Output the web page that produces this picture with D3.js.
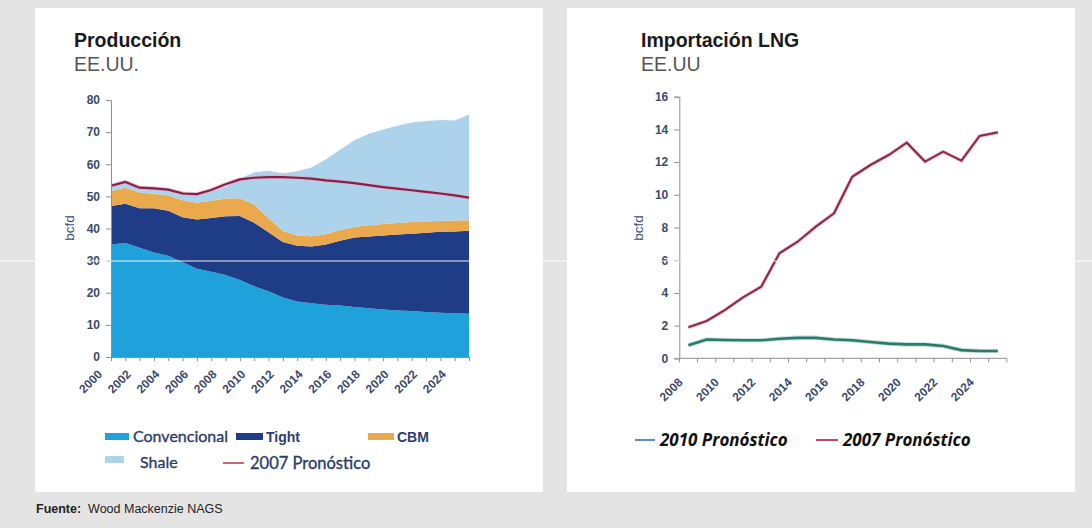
<!DOCTYPE html>
<html><head><meta charset="utf-8">
<script src="https://cdn.jsdelivr.net/npm/d3@7"></script>
<style>body{margin:0;background:#e4e4e4;} svg{display:block}</style>
</head><body><svg id="c" width="1092" height="528"></svg>
<script>
// ---------- DATA ----------
const prodYears = d3.range(2000, 2026);
const convencional = [35,35.5,34,32.5,31.5,29.5,27.5,26.5,25.5,24,22,20.5,18.5,17.3,16.7,16.3,16,15.6,15.2,14.8,14.5,14.3,14,13.8,13.6,13.5];
const tight = [12,12.2,12.3,13.8,14,14,15.3,16.8,18.3,19.9,19.8,18.3,17.3,17.3,17.7,18.7,20.2,21.6,22.3,23,23.6,24.1,24.7,25.2,25.5,25.8];
const cbm = [4.7,5.0,4.9,4.5,4.8,5.3,5.2,5.3,5.5,5.5,5.7,4.4,3.4,3.2,3.2,3.2,3.3,3.3,3.5,3.6,3.6,3.6,3.5,3.4,3.4,3.3];
const shale = [1.6,1.8,1.6,1.7,1.9,2.7,2.5,2.9,3.7,6.1,10,14.8,18,20,21.4,23.3,25,27,28.5,29.4,30.3,31,31.3,31.4,31.1,32.9];
const prodPronostico2007 = [53.3,54.5,52.7,52.5,52.1,50.9,50.7,52,53.8,55.3,55.8,56,56,55.8,55.5,55,54.6,54.1,53.5,52.9,52.4,51.9,51.4,50.9,50.3,49.6];
const prodYTicks = [0,10,20,30,40,50,60,70,80];
const prodXLabels = [2000,2002,2004,2006,2008,2010,2012,2014,2016,2018,2020,2022,2024];

const lngYears = d3.range(2008, 2026);
const lngPronostico2010 = [0.8,1.15,1.12,1.1,1.1,1.2,1.25,1.25,1.15,1.1,1.0,0.9,0.85,0.85,0.75,0.5,0.45,0.45];
const lngPronostico2007 = [1.9,2.28,2.95,3.73,4.38,6.42,7.13,8.05,8.87,11.1,11.82,12.43,13.19,12.03,12.64,12.09,13.6,13.82];
const lngYTicks = [0,2,4,6,8,10,12,14,16];
const lngXLabels = [2008,2010,2012,2014,2016,2018,2020,2022,2024];

const seriesNames = ["Convencional","Tight","CBM","Shale"];
const seriesColors = ["#1fa2dc","#1f3c87","#e9a94c","#acd2ec"];

// ---------- DRAW ----------
const svg = d3.select("#c");
const tickColor = "#3c4a6c";
const axisColor = "#8f8f8f";
const sans = "Liberation Sans, Arial, sans-serif";

// panels
svg.append("rect").attr("x",35).attr("y",8).attr("width",508).attr("height",484).attr("fill","#fff");
svg.append("rect").attr("x",567).attr("y",8).attr("width",508).attr("height",484).attr("fill","#fff");

// titles
function title(x, t1, t2){
  svg.append("text").attr("x",x).attr("y",47).text(t1)
    .attr("font-family",sans).attr("font-weight","bold").attr("font-size",19.5).attr("fill","#1a1a1a");
  svg.append("text").attr("x",x).attr("y",71).text(t2)
    .attr("font-family",sans).attr("font-size",19.5).attr("fill","#555");
}
title(74,"Producción","EE.UU.");
title(641,"Importación LNG","EE.UU");

function styleYAxis(g){
  g.select(".domain").attr("stroke",axisColor);
  g.selectAll(".tick line").attr("stroke",axisColor);
  g.selectAll(".tick text").attr("fill",tickColor).attr("font-family",sans)
   .attr("font-weight","bold").attr("font-size",12);
}

// ---------- LEFT: Producción ----------
const x1 = d3.scaleLinear().domain([2000,2025]).range([111,469]);
const y1 = d3.scaleLinear().domain([0,80]).range([357,100]);
const rows = prodYears.map((yr,i)=>({year:yr, Convencional:convencional[i], Tight:tight[i], CBM:cbm[i], Shale:shale[i]}));
const stacked = d3.stack().keys(seriesNames)(rows);
const area1 = d3.area().x(d=>x1(d.data.year)).y0(d=>y1(d[0])).y1(d=>y1(d[1]));
svg.append("g").selectAll("path").data(stacked).join("path")
  .attr("d",area1).attr("fill",(d,i)=>seriesColors[i]);
const line1 = d3.line().x((d,i)=>x1(prodYears[i])).y(d=>y1(d));
svg.append("path").datum(prodPronostico2007).attr("d",line1).attr("fill","none")
  .attr("stroke","#e7a5b5").attr("stroke-width",4).attr("opacity",0.6);
svg.append("path").datum(prodPronostico2007).attr("d",line1).attr("fill","none")
  .attr("stroke","#86204a").attr("stroke-width",2.2);

const gy1 = svg.append("g").attr("transform","translate(111,0)")
  .call(d3.axisLeft(y1).tickValues(prodYTicks).tickSize(5).tickPadding(6));
styleYAxis(gy1);
const gx1 = svg.append("g").attr("transform","translate(0,357)")
  .call(d3.axisBottom(x1).tickValues(prodYears).tickSize(4).tickFormat(""));
gx1.select(".domain").attr("stroke",axisColor);
gx1.selectAll(".tick line").attr("stroke",axisColor);
svg.append("g").selectAll("text").data(prodXLabels).join("text")
  .attr("transform",d=>`translate(${x1(d)-8},${375}) rotate(-45)`)
  .attr("text-anchor","end").text(d=>d)
  .attr("fill",tickColor).attr("font-family",sans).attr("font-weight","bold").attr("font-size",12);
svg.append("text").attr("transform","translate(74,228) rotate(-90)").attr("text-anchor","middle").text("bcfd")
  .attr("fill","#3a4a7a").attr("font-family",sans).attr("font-size",13.5);

// left legend
const legFont = "Lato, 'Open Sans', sans-serif";
const legColor = "#2b3d6c";
const leg1 = [
  {name:"Convencional", sx:105, sw:24, sy:433, tx:133, ty:442, font:legFont, size:16, weight:"normal"},
  {name:"Tight", sx:236, sw:27, sy:433, tx:266, ty:442, font:sans, size:14, weight:"bold"},
  {name:"CBM", sx:368, sw:26, sy:433, tx:397, ty:442, font:sans, size:14, weight:"bold"},
  {name:"Shale", sx:105, sw:19, sy:456, tx:140, ty:468, font:legFont, size:16, weight:"normal"}
];
leg1.forEach(l=>{
  const i = seriesNames.indexOf(l.name);
  svg.append("rect").attr("x",l.sx).attr("y",l.sy).attr("width",l.sw).attr("height",7).attr("fill",seriesColors[i]);
  svg.append("text").attr("x",l.tx).attr("y",l.ty).text(l.name).attr("fill",legColor)
    .attr("font-family",l.font).attr("font-size",l.size).attr("font-weight",l.weight)
    .attr("stroke",l.weight==="normal"?legColor:"none").attr("stroke-width",0.35);
});
svg.append("line").attr("x1",223).attr("x2",244).attr("y1",463).attr("y2",463).attr("stroke","#c0334f").attr("stroke-width",1.5);
svg.append("text").attr("x",250).attr("y",469).text("2007 Pronóstico").attr("fill",legColor)
  .attr("font-family",legFont).attr("font-size",16.5).attr("stroke",legColor).attr("stroke-width",0.35);

// ---------- RIGHT: Importación LNG ----------
const x2 = d3.scaleBand().domain(lngYears).range([679.3, 679.3+18*18.2]);
const cx2 = d=>x2(d)+x2.bandwidth()/2;
const y2 = d3.scaleLinear().domain([0,16]).range([358.3,96.7]);
const line2 = d3.line().x((d,i)=>cx2(lngYears[i])).y(d=>y2(d));
svg.append("path").datum(lngPronostico2010).attr("d",line2).attr("fill","none")
  .attr("stroke","#9fcfc3").attr("stroke-width",4.5).attr("opacity",0.6);
svg.append("path").datum(lngPronostico2010).attr("d",line2).attr("fill","none")
  .attr("stroke","#2b7b6c").attr("stroke-width",2.6);
svg.append("path").datum(lngPronostico2007).attr("d",line2).attr("fill","none")
  .attr("stroke","#eab0bd").attr("stroke-width",4).attr("opacity",0.6);
svg.append("path").datum(lngPronostico2007).attr("d",line2).attr("fill","none")
  .attr("stroke","#8d2a47").attr("stroke-width",2.2);

const gy2 = svg.append("g").attr("transform","translate(679.3,0)")
  .call(d3.axisLeft(y2).tickValues(lngYTicks).tickSize(5).tickPadding(6));
styleYAxis(gy2);
const bounds = d3.range(0,19).map(k=>679.3+k*18.2);
svg.append("line").attr("x1",679.3).attr("x2",679.3+18*18.2).attr("y1",358.3).attr("y2",358.3).attr("stroke",axisColor);
svg.append("g").selectAll("line").data(bounds).join("line")
  .attr("x1",d=>d).attr("x2",d=>d).attr("y1",358.3).attr("y2",362.3).attr("stroke",axisColor);
svg.append("g").selectAll("text").data(lngXLabels).join("text")
  .attr("transform",d=>`translate(${cx2(d)-5},${383}) rotate(-45)`)
  .attr("text-anchor","end").text(d=>d)
  .attr("fill",tickColor).attr("font-family",sans).attr("font-weight","bold").attr("font-size",12);
svg.append("text").attr("transform","translate(643,228) rotate(-90)").attr("text-anchor","middle").text("bcfd")
  .attr("fill","#3a4a7a").attr("font-family",sans).attr("font-size",13.5);

// right legend
const legFont2 = "'Open Sans', Lato, sans-serif";
svg.append("line").attr("x1",635).attr("x2",655).attr("y1",440).attr("y2",440).attr("stroke","#4f7fb8").attr("stroke-width",1.8);
svg.append("text").attr("x",660).attr("y",446).text("2010 Pronóstico").attr("fill","#111")
  .attr("font-family",legFont2).attr("font-size",17).attr("font-weight","bold").attr("font-style","italic");
svg.append("line").attr("x1",816).attr("x2",838).attr("y1",440).attr("y2",440).attr("stroke","#c0334f").attr("stroke-width",1.8);
svg.append("text").attr("x",843).attr("y",446).text("2007 Pronóstico").attr("fill","#111")
  .attr("font-family",legFont2).attr("font-size",17).attr("font-weight","bold").attr("font-style","italic");

// footer
const ft = svg.append("text").attr("x",36).attr("y",513).attr("font-family",sans).attr("font-size",12.5).attr("fill","#222");
ft.append("tspan").attr("font-weight","bold").text("Fuente:");
ft.append("tspan").text("\u00a0\u00a0Wood Mackenzie NAGS");

// scan artifact line
svg.append("line").attr("x1",0).attr("x2",1092).attr("y1",261).attr("y2",261).attr("stroke","#fff").attr("stroke-width",1.2).attr("opacity",0.9);
</script></body></html>
